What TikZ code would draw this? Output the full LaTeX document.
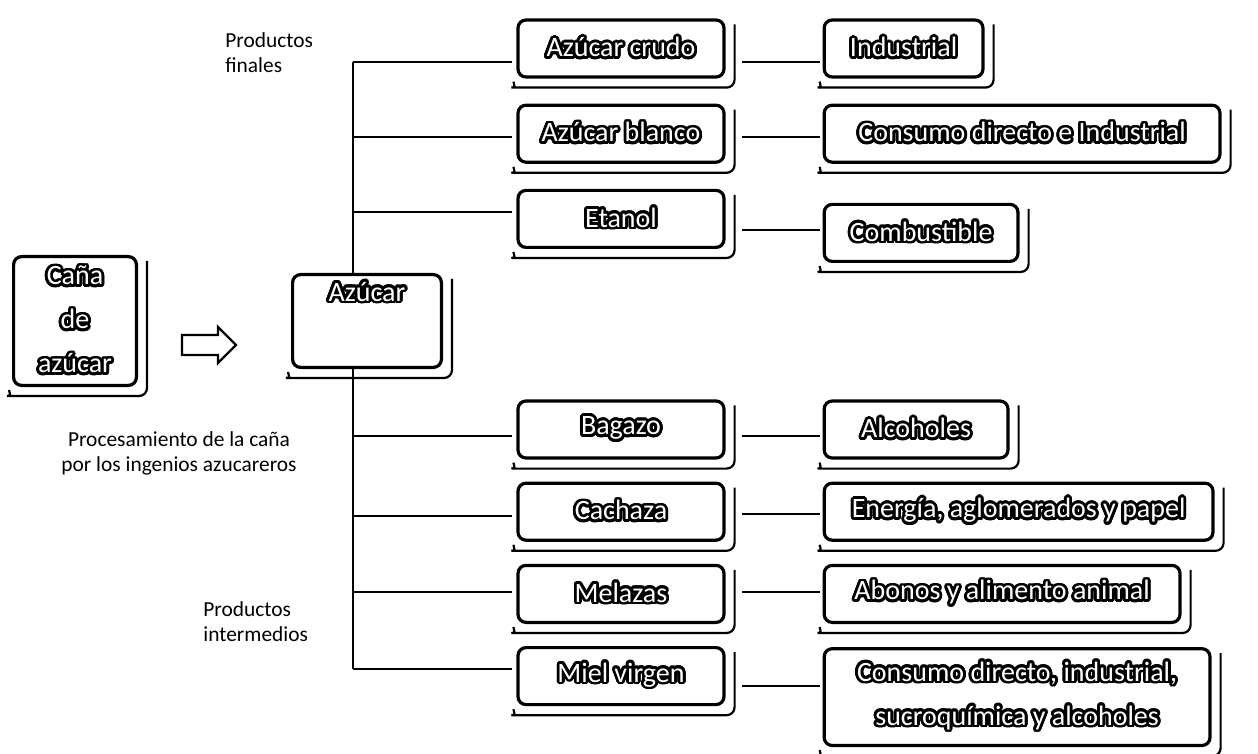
\documentclass[tikz,border=0pt]{standalone}
\usepackage{fontspec}
\setmainfont{Carlito}
\usepackage[copies]{contour}
\contourlength{1.4pt}
\contournumber{24}
\usetikzlibrary{positioning}

\newcommand{\etiq}[1]{{\color{white}\contour{black}{#1}}}

\begin{document}
\begin{tikzpicture}
          [x=0.5pt,y=-0.5pt,
            caja/.style={rectangle,rounded corners=4pt,draw,line width=1.6pt,fill=white,
              inner sep=0pt,align=center,font=\fontsize{14}{22}\selectfont},
            izq/.style={caja,minimum width=103pt,minimum height=28.5pt},
            der/.style={caja,minimum height=28.5pt},
            sombra/.style={line width=1.1pt,rounded corners=4pt},
            linea/.style={line width=1pt},
            nota/.style={inner sep=0pt,font=\fontsize{10.7}{12.5}\selectfont}]
          \useasboundingbox (0,0) rectangle (1258,754);
          \node[caja,minimum width=61.4pt,minimum height=64.4pt] (cana) at (75,321) {\etiq{Caña}\\\etiq{de}\\\etiq{azúcar}};
          \node[caja,minimum width=74.4pt,minimum height=46.4pt,text height=9pt,text depth=29pt,right=76.5pt of cana] (azucar) {\etiq{Azúcar}};
          \node[izq] (crudo) at (621,48.5) {\etiq{Azúcar crudo}};
          \node[izq,below=12.5pt of crudo] (blanco) {\etiq{Azúcar blanco}};
          \node[izq,below=12.5pt of blanco] (etanol) {\etiq{Etanol}};
          \node[izq,below=75.2pt of etanol] (bagazo) {\etiq{Bagazo}};
          \node[izq,below=11pt of bagazo] (cachaza) {\etiq{Cachaza}};
          \node[izq,below=11pt of cachaza] (melazas) {\etiq{Melazas}};
          \node[izq,below=11pt of melazas] (miel) {\etiq{Miel virgen}};
          \node[der,minimum width=79.4pt,right=48.5pt of crudo] (industrial) {\etiq{Industrial}};
          \node[der,minimum width=197.9pt,right=48.5pt of blanco] (consumo) {\etiq{Consumo directo e Industrial}};
          \node[der,minimum width=96.9pt,right=48.5pt of etanol,yshift=-7pt] (combustible) {\etiq{Combustible}};
          \node[der,minimum width=91.9pt,right=48.5pt of bagazo] (alcoholes) {\etiq{Alcoholes}};
          \node[der,minimum width=194.4pt,right=48.5pt of cachaza] (energia) {\etiq{Energía, aglomerados y papel}};
          \node[der,minimum width=177.9pt,right=48.5pt of melazas] (abonos) {\etiq{Abonos y alimento animal}};
          \node[der,minimum width=192.9pt,minimum height=48.4pt,right=48.5pt of miel,yshift=-10.5pt] (consumoii) {\etiq{Consumo directo, industrial,}\\\etiq{sucroquímica y alcoholes}};
          \foreach \n in {cana,azucar,crudo,blanco,etanol,bagazo,cachaza,melazas,miel,
            industrial,consumo,combustible,alcoholes,energia,abonos,consumoii}
          \draw[sombra] ([xshift=-1.5pt,yshift=-1.5pt]\n.south west) to[out=-80,in=180]
            ([xshift=1.5pt,yshift=-4.5pt]\n.south west) -- ([xshift=4.5pt,yshift=-4.5pt]\n.south east)
            -- ([xshift=4.5pt,yshift=-3pt]\n.north east);
          \draw[line width=1.2pt,fill=white] (182,335) -- (218,335) -- (218,327) -- (236,345)
            -- (218,363) -- (218,355) -- (182,355) -- cycle;
          \coordinate (tronco) at (353,0);
          \draw[linea] (tronco |- 0,62) -- (tronco |- azucar.north);
          \draw[linea] (tronco |- azucar.south) -- (tronco |- 0,669);
          \foreach \n/\y in {crudo/62,blanco/137,etanol/212,bagazo/436,cachaza/516,melazas/592,miel/669}
          \draw[linea] (tronco |- 0,\y) -- ([xshift=-2pt]\n.west |- 0,\y);
          \foreach \from/\to/\y in {crudo/industrial/62,blanco/consumo/137,etanol/combustible/230,
            bagazo/alcoholes/436,cachaza/energia/514,melazas/abonos/592,miel/consumoii/686}
          \draw[linea] ([xshift=8.2pt]\from.east |- 0,\y) -- ([xshift=-1.5pt]\to.west |- 0,\y);
          \node[nota,anchor=west,align=left] (finales) at (225,53) {Productos\\finales};
          \node[nota,align=center] (procesamiento) at (179,453) {Procesamiento de la caña\\por los ingenios azucareros};
          \node[nota,anchor=west,align=left] (intermedios) at (203,622) {Productos\\intermedios};
        \end{tikzpicture}
\end{document}
